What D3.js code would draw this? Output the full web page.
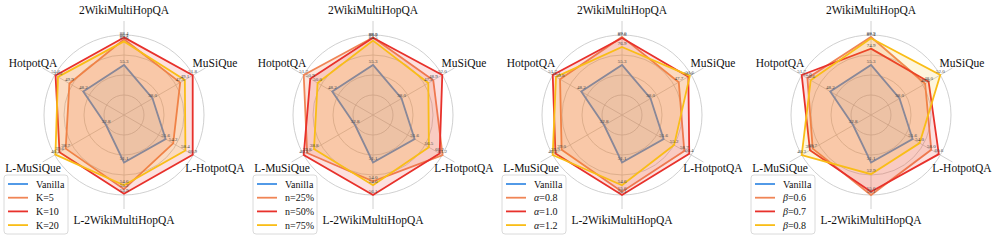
<!DOCTYPE html>
<html>
<head>
<meta charset="utf-8">
<script src="https://cdn.jsdelivr.net/npm/d3@7"></script>
<style>
  body { margin: 0; background: #fff; }
  svg { display: block; font-family: "Liberation Serif", "Times New Roman", serif; }
</style>
</head>
<body>
<svg id="radar" width="996" height="240"></svg>
<script>
const axes = ['2WikiMultiHopQA', 'MuSiQue', 'L-HotpotQA', 'L-2WikiMultiHopQA', 'L-MuSiQue', 'HotpotQA'];

// each axis has its own value range (low end -> centre, high end -> outer ring)
const axisLo = [-5.0, 28.2, 37.3, 43.8, 30.2, 43.2];
const axisHi = [91.3, 52.0, 61.1, 56.1, 40.3, 51.7];

const vanilla = [55.3, 38.0, 51.6, 51.1, 32.8, 48.2];

const kNames = ['K=5', 'K=10', 'K=20'];
const kValues = [
    [86.1, 47.5, 54.2, 55.2, 38.7, 49.9],
    [88.4, 51.8, 60.9, 55.9, 39.6, 51.6],
    [83.6, 49.1, 58.4, 54.6, 40.2, 51.3]
];

const nNames = ['n=25%', 'n=50%', 'n=75%'];
const nValues = [
    [88.3, 48.9, 61.2, 54.0, 39.8, 51.7],
    [88.0, 52.0, 60.2, 56.1, 40.3, 50.9],
    [84.5, 47.2, 56.5, 54.6, 38.8, 50.0]
];

const alphaNames = ['α=0.8', 'α=1.0', 'α=1.2'];
const alphaValues = [
    [89.0, 47.7, 58.7, 55.6, 39.0, 50.8],
    [87.6, 51.0, 60.4, 56.1, 39.9, 51.7],
    [76.9, 51.5, 55.2, 54.6, 40.3, 51.3]
];

const betaNames = ['β=0.6', 'β=0.7', 'β=0.8'];
const betaValues = [
    [88.9, 46.8, 58.0, 56.1, 38.7, 51.0],
    [74.9, 48.0, 60.6, 55.6, 39.1, 51.7],
    [87.4, 52.0, 54.0, 52.9, 40.3, 50.6]
];

const colors = ['#3f8fe5', '#f08556', '#e8312b', '#f9bd17'];
const fillOpacity = [0.1, 0.2, 0.15, 0.15];

const panels = [
    { names: kNames, values: kValues },
    { names: nNames, values: nValues },
    { names: alphaNames, values: alphaValues },
    { names: betaNames, values: betaValues }
];

const R = 80;
const centersX = [124, 373, 622, 871];
const centerY = 115;

const svg = d3.select('#radar');

const rScales = axes.map((a, i) => d3.scaleLinear().domain([axisLo[i], axisHi[i]]).range([0, R]));
const angle = d3.scaleLinear().domain([0, axes.length]).range([0, 2 * Math.PI]);

const radarLine = d3.lineRadial()
    .angle((d, i) => angle(i))
    .radius((d, i) => rScales[i](d))
    .curve(d3.curveLinearClosed);

function pointAt(i, r) {
    const a = angle(i);
    return [r * Math.sin(a), -r * Math.cos(a)];
}

panels.forEach((panel, p) => {
    const g = svg.append('g').attr('transform', `translate(${centersX[p]}, ${centerY})`);

    // grid rings
    g.selectAll('.ring')
        .data([0.25, 0.5, 0.75, 1])
        .join('circle')
        .attr('r', d => d * R)
        .attr('fill', 'none')
        .attr('stroke', '#c4c4c4')
        .attr('stroke-width', 0.8);

    // spokes
    axes.forEach((a, i) => {
        const [x, y] = pointAt(i, R + 14);
        g.append('line')
            .attr('x1', 0).attr('y1', 0)
            .attr('x2', x).attr('y2', y)
            .attr('stroke', '#c4c4c4')
            .attr('stroke-width', 0.8);
    });

    const series = [{ name: 'Vanilla', values: vanilla }]
        .concat(panel.names.map((n, j) => ({ name: n, values: panel.values[j] })));

    series.forEach((s, j) => {
        g.append('path')
            .attr('d', radarLine(s.values))
            .attr('fill', colors[j])
            .attr('fill-opacity', fillOpacity[j])
            .attr('stroke', colors[j])
            .attr('stroke-width', 1.8)
            .attr('stroke-linejoin', 'miter');
    });

    // value labels at each vertex
    series.forEach((s) => {
        s.values.forEach((v, i) => {
            const [x, y] = pointAt(i, rScales[i](v));
            g.append('text')
                .attr('x', x)
                .attr('y', y - 2)
                .attr('text-anchor', 'middle')
                .style('font-size', '5px')
                .style('fill', '#444')
                .text(v.toFixed(1));
        });
    });

    // axis names
    axes.forEach((a, i) => {
        const [x, y] = pointAt(i, 105);
        g.append('text')
            .attr('x', x)
            .attr('y', y)
            .attr('dy', '0.35em')
            .attr('text-anchor', 'middle')
            .style('font-size', '11.5px')
            .style('fill', '#111')
            .text(a);
    });

    // legend
    const lg = g.append('g').attr('transform', `translate(-120, 60)`);
    lg.append('rect')
        .attr('x', 0).attr('y', 0)
        .attr('width', 64).attr('height', 59)
        .attr('rx', 3)
        .attr('fill', '#fff')
        .attr('fill-opacity', 0.85)
        .attr('stroke', '#d0d0d0')
        .attr('stroke-width', 0.8);

    series.forEach((s, j) => {
        const yy = 9 + j * 13.7;
        lg.append('line')
            .attr('x1', 4).attr('x2', 24)
            .attr('y1', yy).attr('y2', yy)
            .attr('stroke', colors[j])
            .attr('stroke-width', 1.8);
        const t = lg.append('text')
            .attr('x', 32)
            .attr('y', yy)
            .attr('dy', '0.35em')
            .style('font-size', '10px')
            .style('fill', '#111');
        const greek = /^[αβ]/.test(s.name);
        if (greek) {
            t.append('tspan').style('font-style', 'italic').text(s.name[0]);
            t.append('tspan').text(s.name.slice(1));
        } else {
            t.text(s.name);
        }
    });
});
</script>
</body>
</html>
